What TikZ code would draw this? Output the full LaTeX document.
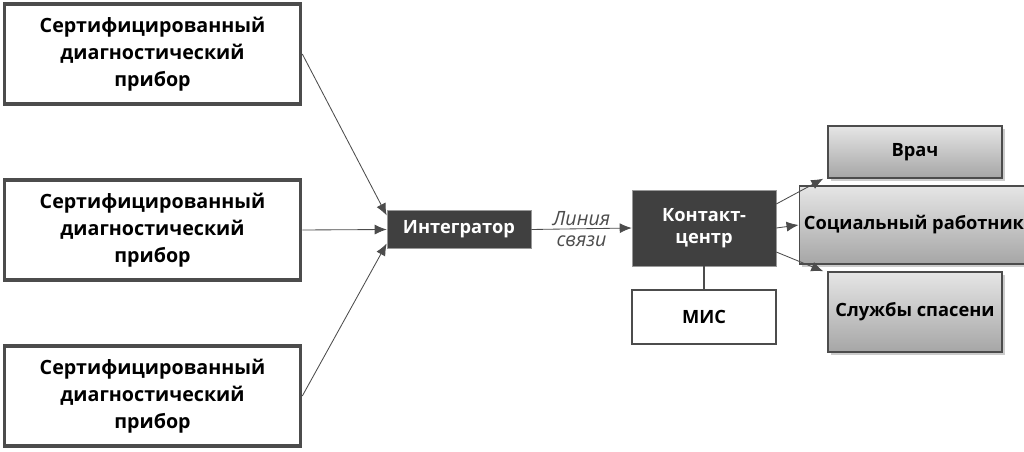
\documentclass[tikz,border=0pt]{standalone}
\usepackage{fontspec}
\setmainfont{Open Sans}
\usetikzlibrary{arrows.meta,shadows}
\tikzset{
  pribor/.style={draw=black!70,line width=2.5pt,fill=white,minimum width=7.4cm,minimum height=2.5cm,
    align=center,font=\fontsize{14}{19}\selectfont\bfseries},
  dark/.style={draw=black!40,fill=black!75,text=white,align=center,font=\fontsize{13}{16}\selectfont\bfseries},
  svc/.style={draw=black!70,line width=1pt,top color=black!10,bottom color=black!35,
    drop shadow={shadow xshift=2pt,shadow yshift=-2pt,fill=black!40},
    align=center,font=\fontsize{13}{16}\selectfont\bfseries},
  arr/.style={-{Latex[length=3mm,width=2.5mm]},black!70,line width=0.6pt}
}
\begin{document}
\begin{tikzpicture}[x=0.025cm,y=-0.025cm]
\useasboundingbox (0,0) rectangle (1024,452);
\node[pribor] (p1) at (152.5,54) {Сертифицированный\\диагностический\\прибор};
\node[pribor] (p2) at (152.5,230) {Сертифицированный\\диагностический\\прибор};
\node[pribor] (p3) at (152.5,396) {Сертифицированный\\диагностический\\прибор};
\node[dark,minimum width=3.6cm,minimum height=0.95cm] (integ) at (459,229.5) {Интегратор};
\node[dark,minimum width=3.6cm,minimum height=1.9cm] (cc) at (704,228) {Контакт-\\центр};
\node[draw=black!70,line width=2pt,fill=white,minimum width=3.6cm,minimum height=1.35cm,
  font=\fontsize{13}{16}\selectfont\bfseries] (mis) at (704,317) {МИС};
\node[svc,minimum width=4.35cm,minimum height=1.3cm] (vrach) at (915,152) {Врач};
\node[svc,minimum width=5.3cm,minimum height=1.95cm] (soc) at (914,225) {Социальный работник};
\node[svc,minimum width=4.35cm,minimum height=2cm] (sluzh) at (915,312) {Службы спасени};
% inputs
\draw[arr] (p1.east) -- ([yshift=0.35cm]integ.west);
\draw[arr] (p2.east) -- (integ.west);
\draw[arr] (p3.east) -- ([yshift=-0.35cm]integ.west);
% line
\draw[arr] (integ.east) -- node[align=center,font=\fontsize{14}{15}\selectfont\itshape] {Линия\\связи} (cc.west);
% outputs
\draw[arr] ([yshift=0.6cm]cc.east) -- ([xshift=-0.1cm]vrach.south west);
\draw[arr] (cc.east) -- (soc.west);
\draw[arr] ([yshift=-0.6cm]cc.east) -- ([xshift=-0.1cm]sluzh.north west);
\draw[black!70,line width=0.8pt] (cc.south) -- (mis.north);
\end{tikzpicture}
\end{document}
